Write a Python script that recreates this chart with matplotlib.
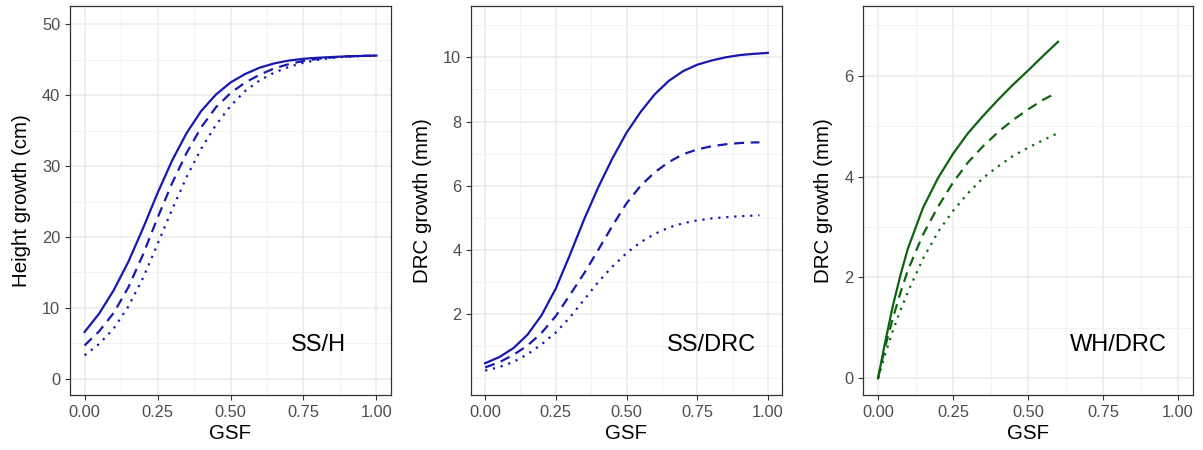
import numpy as np
import matplotlib
matplotlib.use("Agg")
import matplotlib.pyplot as plt
from matplotlib.ticker import FixedLocator

plt.rcParams["font.family"] = ["Liberation Sans", "DejaVu Sans"]

# ---- data ----
gsf = [0, 0.05, 0.10, 0.15, 0.20, 0.25, 0.30, 0.35, 0.40, 0.45, 0.50,
       0.55, 0.60, 0.65, 0.70, 0.75, 0.80, 0.85, 0.90, 0.95, 1.00]

ssh_solid = [6.6, 9.2, 12.5, 16.5, 21.2, 26.2, 30.8, 34.7, 37.8, 40.1, 41.8,
             43.0, 43.9, 44.5, 44.9, 45.15, 45.3, 45.4, 45.5, 45.55, 45.6]
ssh_dashed = [4.7, 6.7, 9.3, 12.9, 17.5, 22.7, 27.6, 31.9, 35.5, 38.3, 40.3,
              41.8, 42.9, 43.8, 44.4, 44.85, 45.15, 45.35, 45.5, 45.55, 45.6]
ssh_dotted = [3.3, 4.9, 7.1, 10.2, 14.2, 19.0, 23.9, 28.5, 32.5, 35.8, 38.5,
              40.6, 42.1, 43.2, 44.0, 44.6, 45.0, 45.3, 45.45, 45.55, 45.6]

gsf_ss2 = [0, 0.05, 0.10, 0.15, 0.20, 0.25, 0.30, 0.35, 0.40, 0.45, 0.50,
           0.55, 0.60, 0.65, 0.70, 0.75, 0.80, 0.85, 0.90, 0.95, 0.97]
ssd_solid = [0.47, 0.66, 0.94, 1.36, 1.97, 2.8, 3.85, 4.95, 5.95, 6.85, 7.65,
             8.3, 8.85, 9.27, 9.57, 9.77, 9.9, 10.0, 10.07, 10.11, 10.12]
gsf_ss2_solid_end = 1.00
ssd_solid_end = 10.14
ssd_dashed = [0.34, 0.5, 0.73, 1.02, 1.42, 1.94, 2.6, 3.27, 4.0, 4.75, 5.45,
              6.0, 6.42, 6.74, 6.98, 7.13, 7.23, 7.29, 7.33, 7.35, 7.35]
ssd_dotted = [0.24, 0.35, 0.51, 0.75, 1.06, 1.43, 1.9, 2.45, 3.0, 3.48, 3.9,
              4.24, 4.5, 4.7, 4.83, 4.92, 4.98, 5.02, 5.05, 5.07, 5.08]

gsf_wh = [0, 0.025, 0.05, 0.075, 0.10, 0.15, 0.20, 0.25, 0.30, 0.35, 0.40,
          0.45, 0.50, 0.55, 0.60]
gsf_wh_dash = gsf_wh[:-1] + [0.585]
whd_solid = [0, 0.75, 1.45, 2.05, 2.58, 3.38, 3.97, 4.45, 4.86, 5.2, 5.52,
             5.82, 6.1, 6.39, 6.67]
whd_dashed = [0, 0.65, 1.2, 1.7, 2.15, 2.85, 3.4, 3.88, 4.28, 4.6, 4.88,
              5.12, 5.33, 5.52, 5.63]
whd_dotted = [0, 0.5, 0.95, 1.35, 1.72, 2.37, 2.9, 3.32, 3.67, 3.97, 4.2,
              4.41, 4.57, 4.72, 4.86]

x_ticks = [0, 0.25, 0.5, 0.75, 1.0]
x_labels = ["0.00", "0.25", "0.50", "0.75", "1.00"]

BLUE = "#1818B0"
GREEN = "#0E640E"

fig = plt.figure(figsize=(12.03, 4.5), dpi=100)
ax1 = fig.add_axes([70 / 1203, 55 / 450, 321 / 1203, 389 / 450])
ax2 = fig.add_axes([471 / 1203, 55 / 450, 311 / 1203, 389 / 450])
ax3 = fig.add_axes([863 / 1203, 55 / 450, 330 / 1203, 389 / 450])


def draw(ax, series, color):
    for (x, y), ls in zip(series, ["solid", "dashed", "dotted"]):
        line, = ax.plot(x, y, color=color, lw=1.6, zorder=3)
        if ls == "dashed":
            line.set_dashes((4.5, 3.0))
        elif ls == "dotted":
            line.set_dashes((1.0, 2.6))


draw(ax1, [(gsf, ssh_solid), (gsf, ssh_dashed), (gsf, ssh_dotted)], BLUE)
draw(ax2, [(gsf_ss2 + [gsf_ss2_solid_end], ssd_solid + [ssd_solid_end]),
           (gsf_ss2, ssd_dashed), (gsf_ss2, ssd_dotted)], BLUE)
draw(ax3, [(gsf_wh, whd_solid), (gsf_wh_dash, whd_dashed), (gsf_wh, whd_dotted)], GREEN)

for ax, yl, lim, maj, mnr, lab, ty in [
    (ax1, "Height growth (cm)", (-2.3, 52.6), [0, 10, 20, 30, 40, 50],
     [5, 15, 25, 35, 45], "SS/H", 4.7),
    (ax2, "DRC growth (mm)", (-0.52, 11.6), [2, 4, 6, 8, 10],
     [0, 1, 3, 5, 7, 9, 11], "SS/DRC", 1.04),
    (ax3, "DRC growth (mm)", (-0.33, 7.38), [0, 2, 4, 6],
     [1, 3, 5, 7], "WH/DRC", 0.66),
]:
    ax.set_xlim(-0.05, 1.05)
    ax.set_ylim(*lim)
    ax.xaxis.set_major_locator(FixedLocator(x_ticks))
    ax.set_xticklabels(x_labels)
    ax.xaxis.set_minor_locator(FixedLocator([0.125, 0.375, 0.625, 0.875]))
    ax.yaxis.set_major_locator(FixedLocator(maj))
    ax.yaxis.set_minor_locator(FixedLocator(mnr))
    ax.grid(which="major", color="#EBEBEB", lw=1.1)
    ax.grid(which="minor", color="#F2F2F2", lw=0.7)
    ax.set_axisbelow(True)
    ax.tick_params(which="major", length=3.5, width=0.8, color="#333333",
                   labelsize=11.8, labelcolor="#4D4D4D", pad=3.5)
    ax.tick_params(which="minor", length=0)
    for s in ax.spines.values():
        s.set_color("#333333")
        s.set_linewidth(0.9)
    ax.set_xlabel("GSF", fontsize=14.8, labelpad=3)
    ax.set_ylabel(yl, fontsize=14.8, labelpad=8)
    ax.text(0.80, ty, lab, fontsize=17, ha="center", va="center", color="black")

fig.savefig("out.png", dpi=100)
